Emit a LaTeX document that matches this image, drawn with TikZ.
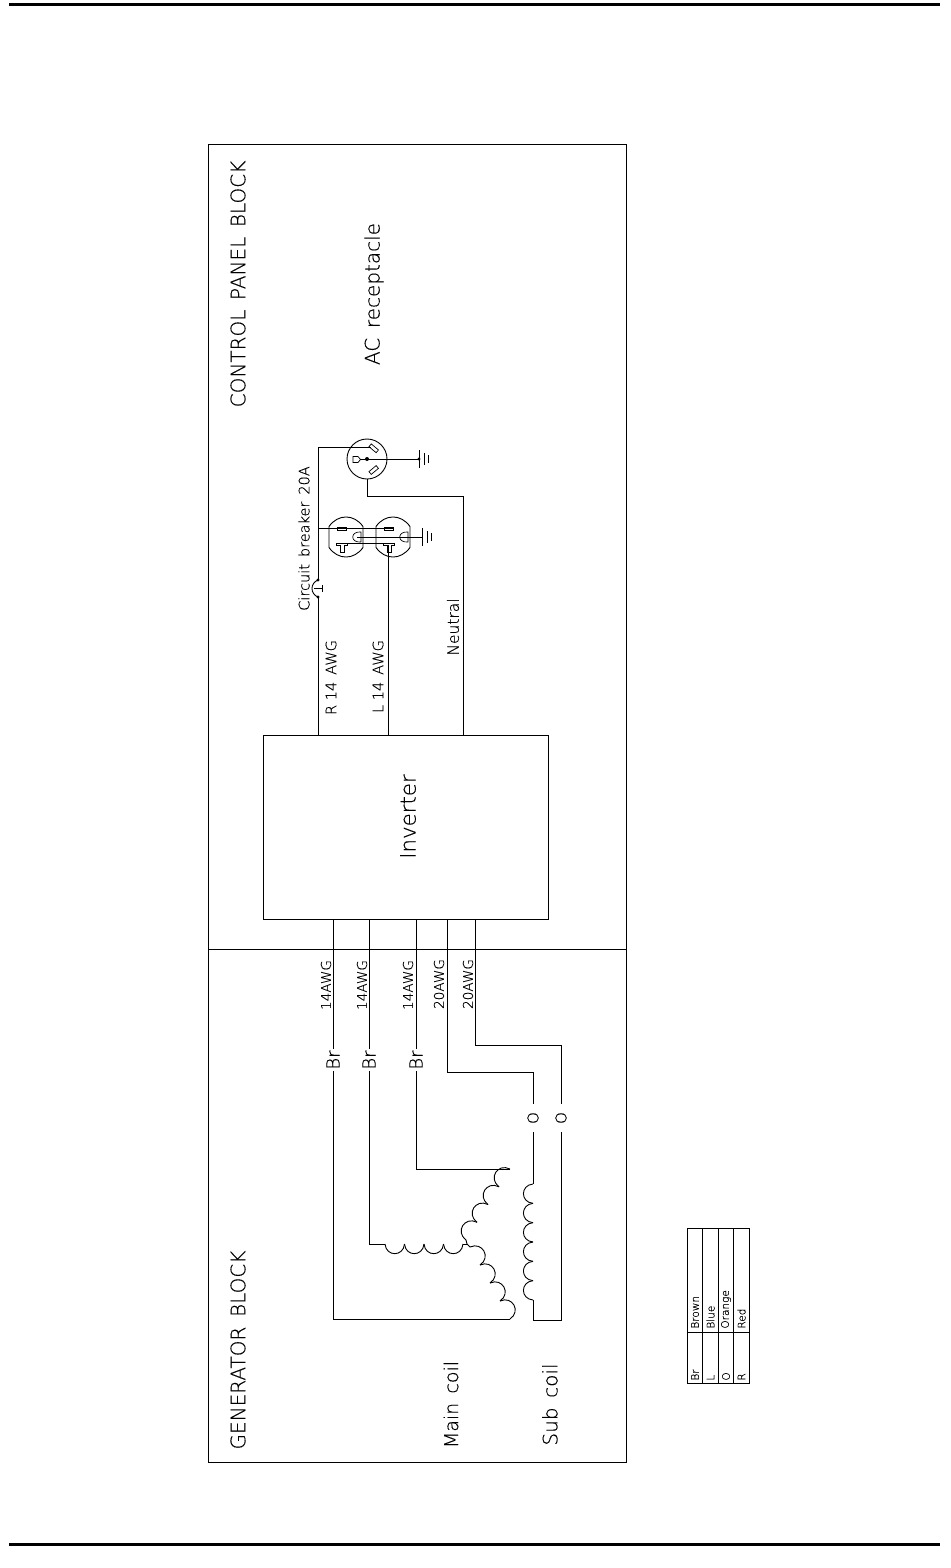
\documentclass[tikz,border=0pt]{standalone}
\usepackage{fontspec}
\setmainfont[FakeBold=0.3]{DejaVu Sans ExtraLight}
\usetikzlibrary{matrix,positioning,calc}
\newcommand{\coilrun}[4]{\foreach \k in {1,...,#3} {
    \pgfmathsetmacro{\kp}{(\k-1)/#3}\pgfmathsetmacro{\kq}{\k/#3}
    \draw ($(#1)!\kp!(#2)$) to[relative, out=#4*85, in=#4*95, looseness=1.7] ($(#1)!\kq!(#2)$);
  }}

\begin{document}
\begin{tikzpicture}[x=1pt, y=-1pt, line width=0.9pt,
    vtext/.style={rotate=90, inner sep=0},
    wirelabel/.style={vtext, font=\fontsize{13.6}{14}\selectfont},
    tinylabel/.style={vtext, font=\fontsize{14.5}{15}\selectfont},
    blocklabel/.style={vtext, font=\fontsize{20}{21}\selectfont},
    brcode/.style={rotate=90, inner xsep=1pt, inner ysep=0pt, font=\fontsize{18}{19}\selectfont},
    orcode/.style={rotate=90, inner xsep=7.5pt, inner ysep=0pt, font=\fontsize{15}{16}\selectfont},
    legendtext/.style={rotate=90, anchor=west, inner sep=0, font=\fontsize{10.5}{11}\selectfont},
    slot/.style={draw, line width=0.7pt},
    groundmark/.pic={
      \draw (0,-9) -- (0,9);
      \draw (5,-6) -- (5,6);
      \draw (9.5,-4) -- (9.5,4);
    }]
  \useasboundingbox (0,0) rectangle (950,1568);

  \coordinate (topl) at (9,4.5);
  \coordinate (topr) at (940,4.5);
  \coordinate (botl) at (9,1544);
  \coordinate (botr) at (940,1544);
  \draw[line width=3pt] (topl) -- (topr);
  \draw[line width=3pt] (botl) -- (botr);

  \node[draw, minimum width=418pt, minimum height=805pt, inner sep=0] (ctrlblock) at (417.5,546.5) {};
  \node[draw, minimum width=418pt, minimum height=513pt, inner sep=0] (genblock) at (417.5,1205.5) {};
  \node[draw, minimum width=285pt, minimum height=184pt, inner sep=0] (inverter) at (405.5,827) {};

  \node[blocklabel] (ctrltext) at (238,284) {CONTROL\, PANEL\, BLOCK};
  \node[blocklabel] (gentext) at (238,1350) {GENERATOR\, BLOCK};
  \node[blocklabel] (actext) at (374,294) {AC\, receptacle};
  \node[blocklabel, font=\fontsize{21.3}{22}\selectfont] (invtext) at (408,816.5) {Inverter};
  \node[blocklabel, font=\fontsize{19}{20}\selectfont] (maintext) at (451,1404.5) {Main\, coil};
  \node[blocklabel] (subtext) at (550,1404.5) {Sub\, coil};
  \node[tinylabel] (cbtext) at (304,538.5) {Circuit\, breaker\, 20A};
  \node[tinylabel] (rtext) at (331,677.5) {R 14\, AWG};
  \node[tinylabel] (ltext) at (378,676.5) {L 14\, AWG};
  \node[tinylabel, font=\fontsize{15.5}{16}\selectfont] (ntext) at (453,627) {Neutral};

  \node[brcode] (bra) at (333,1060) {Br};
  \node[brcode] (brb) at (369,1060) {Br};
  \node[brcode] (brc) at (416,1060) {Br};
  \node[orcode] (ora) at (533,1118) {O};
  \node[orcode] (orb) at (561,1118) {O};

  \node[wirelabel] (awga) at (326,985) {14AWG};
  \node[wirelabel] (awgb) at (362,985) {14AWG};
  \node[wirelabel] (awgc) at (408,985) {14AWG};
  \node[wirelabel] (awgd) at (439,984) {20AWG};
  \node[wirelabel] (awge) at (468,984) {20AWG};

  \coordinate (star) at (467,1244);
  \coordinate (armlin) at (385,1244);
  \coordinate (armlout) at (463,1244);
  \coordinate (armuin) at (466,1240);
  \coordinate (armuout) at (510,1169);
  \coordinate (armdin) at (470,1247);
  \coordinate (armdout) at (510,1319);
  \coordinate (subtop) at (533,1184);
  \coordinate (subbot) at (533,1300);
  \coordinate (wired) at (447,1072);
  \coordinate (wiree) at (475,1045);

  \draw (inverter.south -| bra) -- (bra);
  \draw (inverter.south -| brb) -- (brb);
  \draw (inverter.south -| brc) -- (brc);
  \draw (bra) |- (armdout);
  \draw (brb) |- (armlin);
  \draw (brc) |- (armuout);
  \coilrun{armlin}{armlout}{4}{-1}
  \coilrun{armuin}{armuout}{4}{1}
  \coilrun{armdin}{armdout}{4}{1}
  \draw (armlout) -- (star);
  \draw (star) -- (armuin);
  \draw (star) -- (armdin);

  \draw (inverter.south -| wired) -- (wired) -| (ora);
  \draw (inverter.south -| wiree) -- (wiree) -| (orb);
  \draw (ora) -- (subtop);
  \coilrun{subtop}{subbot}{6}{-1}
  \draw (subbot) |- (561,1320) -- (orb);

  \node[draw, circle, minimum size=40pt, inner sep=0] (recept) at (367,459) {};
  \coordinate (rwire) at (318,735);
  \coordinate (lwire) at (388,735);
  \coordinate (nbend) at (463,496);
  \coordinate (cbtop) at (318,580);
  \coordinate (cbbot) at (318,597);
  \coordinate (hot) at (318,447);
  \coordinate (recpe) at (419,459);

  \draw (inverter.north -| rwire) -- (cbbot);
  \draw (cbtop) -- (hot) -- (371,447);
  \draw (recept.south) |- (nbend) -- (inverter.north -| nbend);
  \draw (inverter.north -| lwire) -- (388,545);
  \fill (cbtop) circle (1.6pt);
  \fill (cbbot) circle (1.6pt);
  \draw (cbtop) .. controls (310,583) and (310,594) .. (cbbot);
  \draw (314,588.5) -- (322,588.5) (322,585) -- (322,592);

  \fill (367,459) circle (2pt);
  \draw (360,459) -- (recpe);
  \fill (recpe) circle (1.6pt);
  \pic at (recpe) {groundmark};
  \draw[slot, rotate around={-40:(373.7,448.3)}] (369,446.5) rectangle (378.4,450.1);
  \draw[slot, rotate around={40:(373.7,470)}] (369,468.2) rectangle (378.4,471.8);
  \draw[slot] (353,456.5) -- (358,456.5) -- (360.5,459.5) -- (358,462.5) -- (353,462.5) -- cycle;

  \foreach \outname/\outx in {outa/346,outb/393} {
    \begin{scope}[shift={(\outx,537)}]
      \coordinate (\outname) at (0,0);
      \draw (-17,-10.5) .. controls (-8,-23.2) and (8,-23.2) .. (17,-10.5)
        -- (17,10.5) .. controls (8,23.2) and (-8,23.2) .. (-17,10.5) -- cycle;
      \draw[slot] (-8.7,-9.5) rectangle (0,-6.5);
      \draw[slot] (-9.3,6) -- (1.7,6) -- (1.7,8.3) -- (-2,8.3) -- (-2,15) -- (-6,15)
        -- (-6,8.3) -- (-9.3,8.3) -- cycle;
      \draw[slot] (15,-5) .. controls (4,-6) and (4,6) .. (15,5) -- cycle;
    \end{scope}
  }
  \draw (hot |- outa) ++(0,-8.5) -- ($(outb)+(0,-8.5)$);
  \draw ($(outa)+(-4,6)$) -- ($(outb)+(-4,6)$);
  \coordinate (outg) at (422,537);
  \draw ($(outa)+(11,0)$) -- (outg);
  \pic at (outg) {groundmark};

  \node[draw, minimum width=62pt, minimum height=155pt, inner sep=0] (legend) at (718,1305.5) {};
  \foreach \sepx in {702.5,718,733} {
    \draw (\sepx,1228) -- (\sepx,1383);
  }
  \draw (legend.west |- 718,1332) -- (legend.east |- 718,1332);
  \foreach \codetext/\nametext/\rowx in {Br/Brown/695,L/Blue/710.5,O/Orange/726,R/Red/741.5} {
    \node[legendtext] at (\rowx,1381) {\codetext};
    \node[legendtext] at (\rowx,1329) {\nametext};
  }
\end{tikzpicture}
\end{document}
